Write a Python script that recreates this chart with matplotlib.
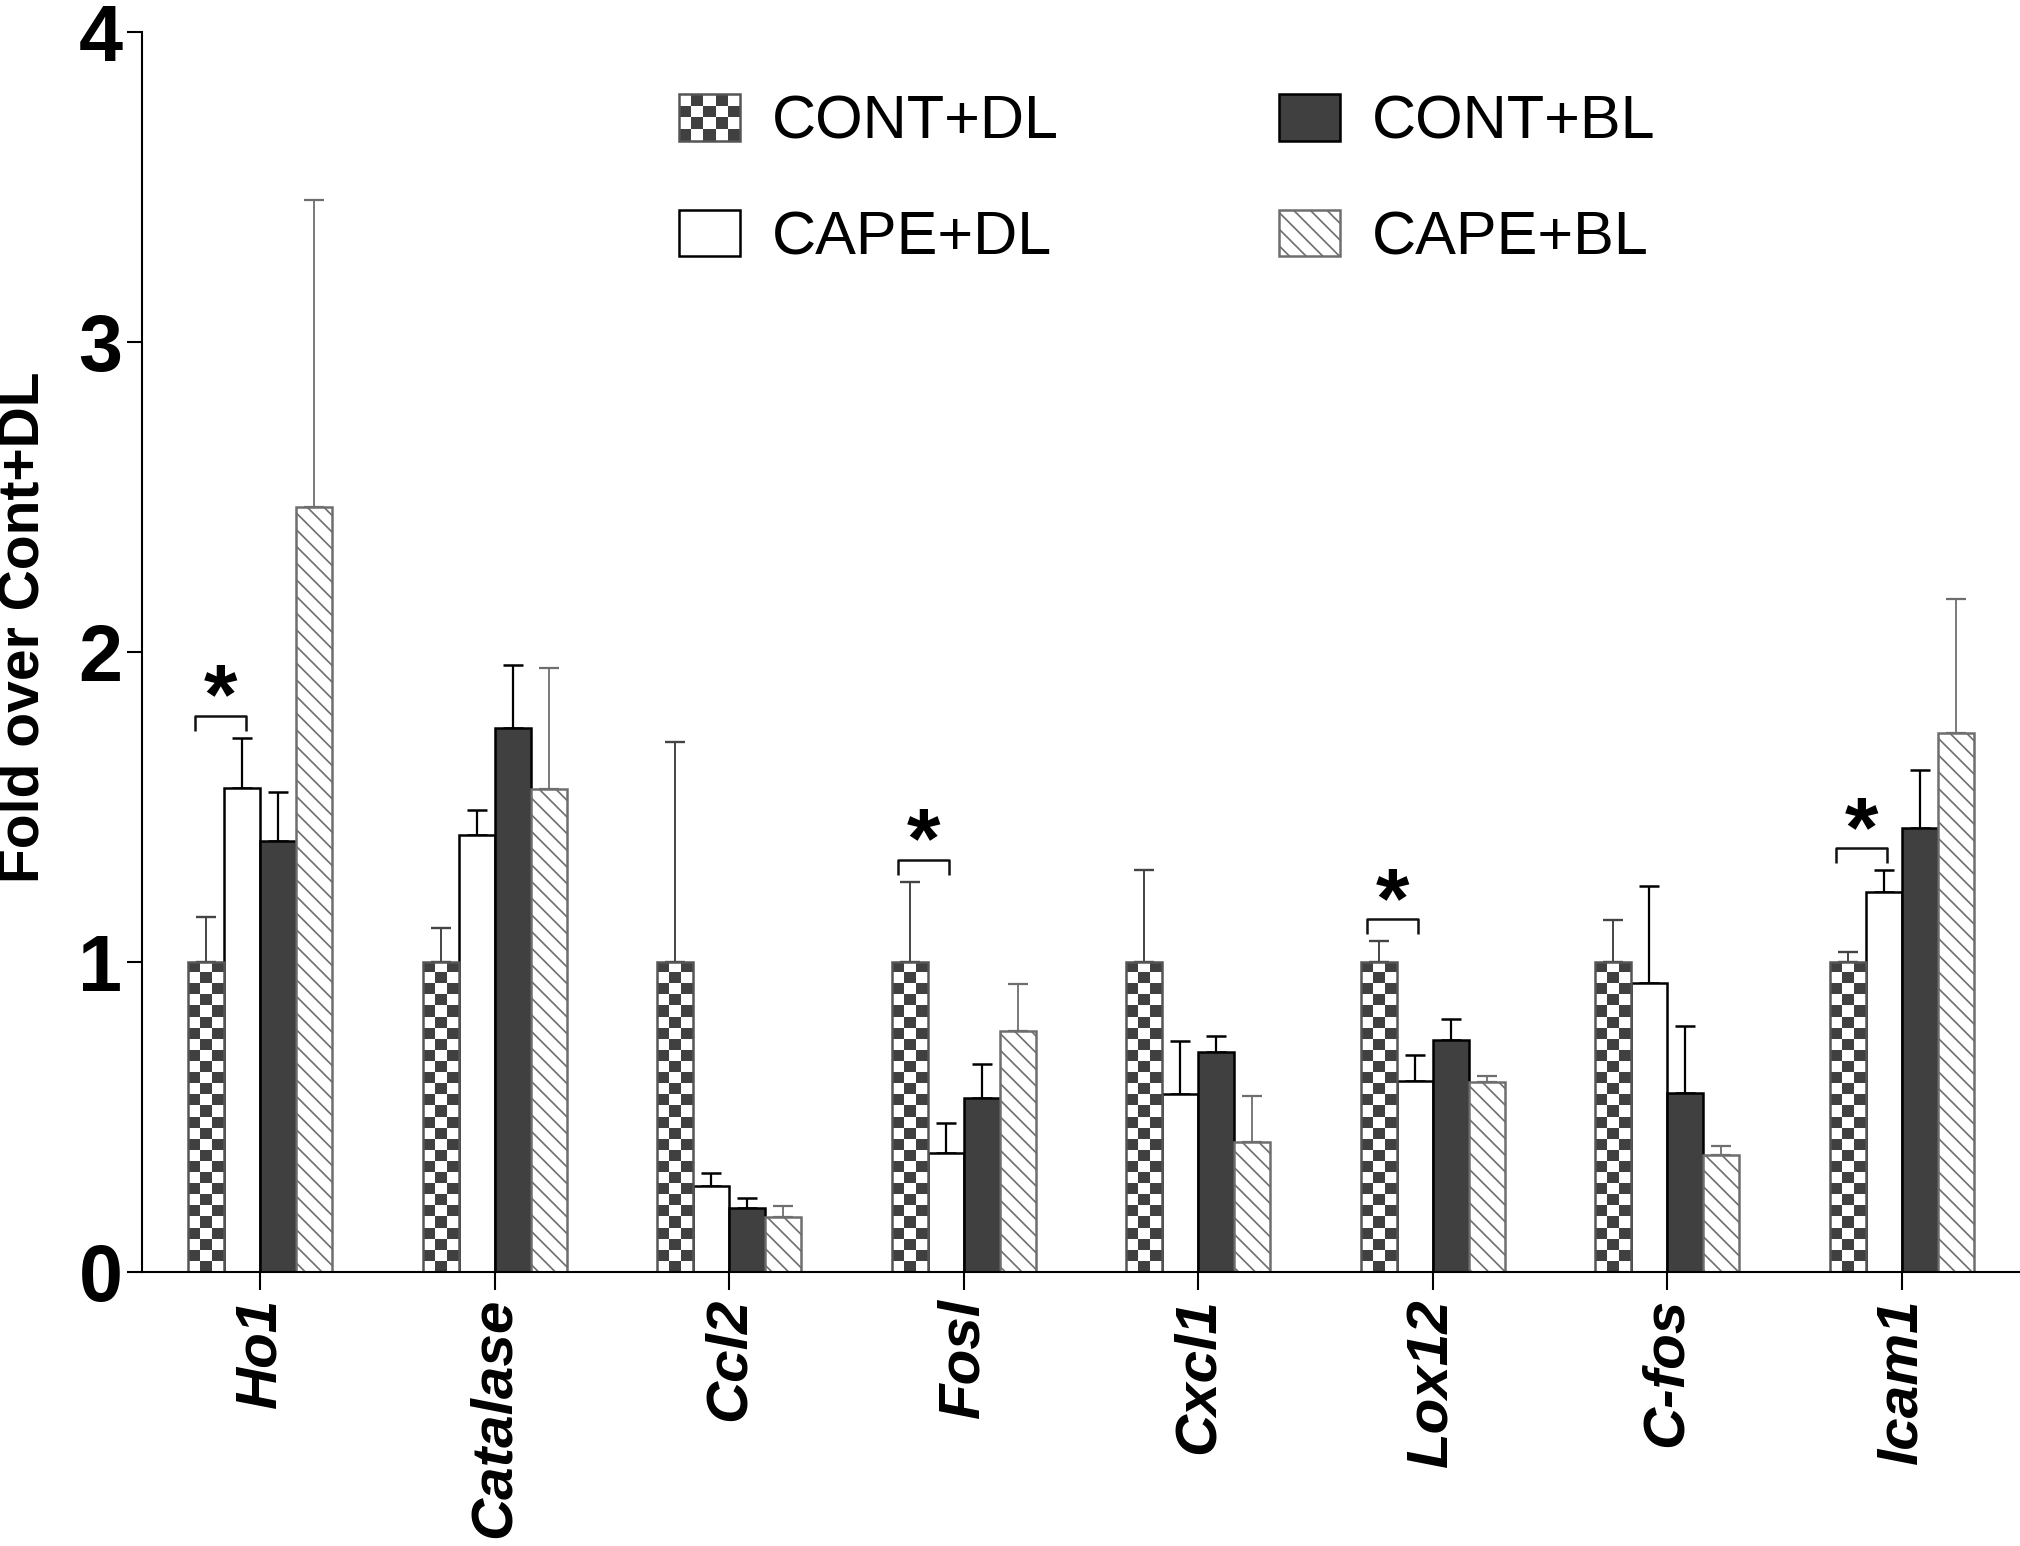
import numpy as np
import matplotlib
matplotlib.use('Agg')
import matplotlib.pyplot as plt
from matplotlib.colors import ListedColormap
from matplotlib.legend_handler import HandlerBase
from matplotlib.patches import Rectangle

genes = ['Ho1', 'Catalase', 'Ccl2', 'Fosl', 'Cxcl1', 'Lox12', 'C-fos', 'Icam1']
groups = ['CONT+DL', 'CAPE+DL', 'CONT+BL', 'CAPE+BL']

# mean fold change and upper error (SEM)
cont_dl = [1.0, 1.0, 1.0, 1.0, 1.0, 1.0, 1.0, 1.0]
cont_dl_sem = [0.144, 0.111, 0.711, 0.258, 0.297, 0.067, 0.136, 0.032]
cape_dl = [1.560, 1.411, 0.279, 0.385, 0.575, 0.617, 0.931, 1.225]
cape_dl_sem = [0.163, 0.078, 0.040, 0.096, 0.171, 0.084, 0.314, 0.071]
cont_bl = [1.391, 1.754, 0.208, 0.561, 0.710, 0.750, 0.579, 1.431]
cont_bl_sem = [0.159, 0.204, 0.032, 0.111, 0.051, 0.065, 0.216, 0.188]
cape_bl = [2.467, 1.557, 0.179, 0.776, 0.419, 0.614, 0.379, 1.738]
cape_bl_sem = [0.990, 0.392, 0.035, 0.153, 0.150, 0.018, 0.027, 0.432]

# CONT+DL vs CAPE+DL significant
sig_genes = ['Ho1', 'Fosl', 'Lox12', 'Icam1']

plt.rcParams['font.family'] = ['Liberation Sans', 'DejaVu Sans']
plt.rcParams['hatch.linewidth'] = 1.2

DARK = '#404040'
GREY = '#6e6e6e'


class CheckerHandler(HandlerBase):
    """legend box drawn as a small checkerboard"""

    def create_artists(self, legend, orig_handle, xdescent, ydescent,
                       width, height, fontsize, trans):
        ncol, nrow = 5, 4
        cw, ch = width / ncol, height / nrow
        x0, y0 = -xdescent, -ydescent
        arts = [Rectangle((x0, y0), width, height, facecolor='white',
                          edgecolor='none', transform=trans)]
        for r in range(nrow):
            for c in range(ncol):
                if (r + c) % 2 == 0:
                    arts.append(Rectangle((x0 + c * cw, y0 + r * ch), cw, ch,
                                          facecolor=DARK, edgecolor='none',
                                          transform=trans))
        arts.append(Rectangle((x0, y0), width, height, facecolor='none',
                              edgecolor='#555555', linewidth=1.8,
                              transform=trans))
        return arts


fig = plt.figure(figsize=(20.2, 15.46), dpi=100)
ax = fig.add_axes([0.0703, 0.1772, 0.9297, 0.8021])

x = np.arange(len(genes))
bw = 0.1535
zeros = np.zeros(len(genes))

err_black = dict(ecolor='black', elinewidth=1.6, capsize=7, capthick=1.8,
                 zorder=1.9)
err_grey = dict(ecolor=GREY, elinewidth=1.3, capsize=7, capthick=1.6,
                zorder=1.9)
err_dgrey = dict(ecolor='#444444', elinewidth=1.4, capsize=7, capthick=1.7,
                 zorder=1.9)

b1 = ax.bar(x - 1.5 * bw, cont_dl, bw, color='white', edgecolor='none',
            yerr=[zeros, cont_dl_sem], error_kw=err_dgrey, zorder=2,
            label=groups[0])
ax.bar(x - 1.5 * bw, cont_dl, bw, fill=False, edgecolor='#555555',
       linewidth=1.8, zorder=2.2)
b2 = ax.bar(x - 0.5 * bw, cape_dl, bw, color='white', edgecolor='black',
            linewidth=1.8, yerr=[zeros, cape_dl_sem], error_kw=err_black,
            zorder=2, label=groups[1])
b3 = ax.bar(x + 0.5 * bw, cont_bl, bw, color=DARK, edgecolor='black',
            linewidth=1.8, yerr=[zeros, cont_bl_sem], error_kw=err_black,
            zorder=2, label=groups[2])
b4 = ax.bar(x + 1.5 * bw, cape_bl, bw, color='white', edgecolor=GREY,
            hatch='\\\\', linewidth=1.8, yerr=[zeros, cape_bl_sem],
            error_kw=err_grey, zorder=2, label=groups[3])

# checkerboard fill for CONT+DL bars
checker_cmap = ListedColormap(['white', DARK])
cell_h = 1 / 28.
for rect in b1.patches:
    x0, w, h = rect.get_x(), rect.get_width(), rect.get_height()
    nrow = int(np.ceil(h / cell_h))
    tile = np.indices((nrow, 3)).sum(axis=0) % 2
    im = ax.imshow(tile, cmap=checker_cmap, extent=(x0, x0 + w, 0, nrow * cell_h),
                   origin='lower', interpolation='nearest', aspect='auto',
                   zorder=2.1)
    im.set_clip_path(rect)

# significance brackets
for g in sig_genes:
    i = genes.index(g)
    xa = i - 1.5 * bw - 0.05
    xb = i - 0.5 * bw + 0.015
    top = max(cont_dl[i] + cont_dl_sem[i], cape_dl[i] + cape_dl_sem[i]) + 0.072
    ax.plot([xa, xa, xb, xb], [top - 0.05, top, top, top - 0.05],
            color='#111111', linewidth=1.8, solid_capstyle='butt', zorder=3)
    ax.text((xa + xb) / 2, top - 0.025, '*', ha='center', va='baseline',
            fontsize=62, fontweight='bold', zorder=3)

ax.set_xlim(-0.505, 7.505)
ax.set_ylim(0, 4)
ax.spines['top'].set_visible(False)
ax.spines['right'].set_visible(False)
ax.spines['left'].set_linewidth(1.5)
ax.spines['bottom'].set_linewidth(1.5)

ax.set_yticks([0, 1, 2, 3, 4])
ax.set_yticklabels(['0', '1', '2', '3', '4'], fontsize=57, fontweight='bold')
ax.tick_params(axis='y', length=11, width=1.5, pad=3)

ax.set_xticks(x)
ax.set_xticklabels(genes, rotation=90, fontsize=42, fontweight='bold',
                   fontstyle='italic', ha='center', va='top')
ax.tick_params(axis='x', length=12.6, width=1.5, pad=6)

fig.text(24 / 2020, 1 - 627 / 1546, 'Fold over Cont+DL', rotation=90,
         ha='center', va='center', fontsize=41, fontweight='bold')

ax.legend([b1, b2, b3, b4], groups, ncol=2, frameon=False, fontsize=44,
          handlelength=1.0, handleheight=0.8, handletextpad=0.52,
          columnspacing=3.6, labelspacing=0.95, borderpad=0, borderaxespad=0,
          loc='upper left', bbox_to_anchor=(679 / 2020, 1 - 94 / 1546),
          bbox_transform=fig.transFigure,
          handler_map={b1: CheckerHandler()})

fig.savefig('out.png', dpi=100)
